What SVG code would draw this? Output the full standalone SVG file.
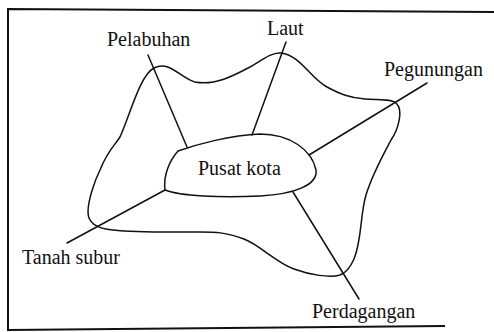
<svg xmlns="http://www.w3.org/2000/svg" width="494" height="332" viewBox="0 0 494 332">
<style>
.ln{fill:none;stroke:#111;stroke-width:1.5;stroke-linecap:round;stroke-linejoin:round}
.fr{fill:none;stroke:#111;stroke-width:2}
.tx{font-family:'Liberation Serif','Times New Roman',serif;font-size:20px;fill:#111}
</style>
<rect width="494" height="332" fill="#fff"/>
<g id="frame">
<path class="fr" d="M494,12 L8,9 L8,330 L445,326"/>
</g>
<g id="region">
<path class="ln" d="M154,68 C170,60 180,78 195,82 C215,86 235,75 250,67 C262,60 272,52 281,53 C300,55 312,80 327,87 C340,94 350,98 365,99 C380,100 392,99 396,103 C404,110 398,130 391,140 C383,155 372,175 366,195 C360,215 362,240 354,259 C350,268 346,273 340,275 C330,278 310,275 294,269 C275,262 260,245 244,239 C225,232 215,232 200,232 C170,232 140,233 113,230 C100,229 88,225 88,212 C88,200 95,180 100,170 C108,150 115,145 120,137 C130,115 140,75 154,68 Z"/>
</g>
<g id="connectors">
<path class="ln" d="M148,55 L187,147"/>
<path class="ln" d="M286,42 L252,135"/>
<path class="ln" d="M427,83 L309,155"/>
<path class="ln" d="M165,190 L67,243"/>
<path class="ln" d="M293,192 L359,299"/>
</g>
<g id="pusat-kota">
<path class="ln" d="M165,190 C163,175 170,160 178,151 C195,145 230,135 260,134 C290,134 312,150 316,170 C318,185 295,194 260,196 C220,198 180,196 165,190 Z"/>
<text class="tx" font-family="Liberation Serif, serif" x="198" y="175">Pusat kota</text>
</g>
<g id="pelabuhan"><text class="tx" font-family="Liberation Serif, serif" x="107" y="46">Pelabuhan</text></g>
<g id="laut"><text class="tx" font-family="Liberation Serif, serif" x="267" y="35">Laut</text></g>
<g id="pegunungan"><text class="tx" font-family="Liberation Serif, serif" x="384" y="76">Pegunungan</text></g>
<g id="tanah-subur"><text class="tx" font-family="Liberation Serif, serif" x="22" y="264">Tanah subur</text></g>
<g id="perdagangan"><text class="tx" font-family="Liberation Serif, serif" x="312" y="318">Perdagangan</text></g>
</svg>
